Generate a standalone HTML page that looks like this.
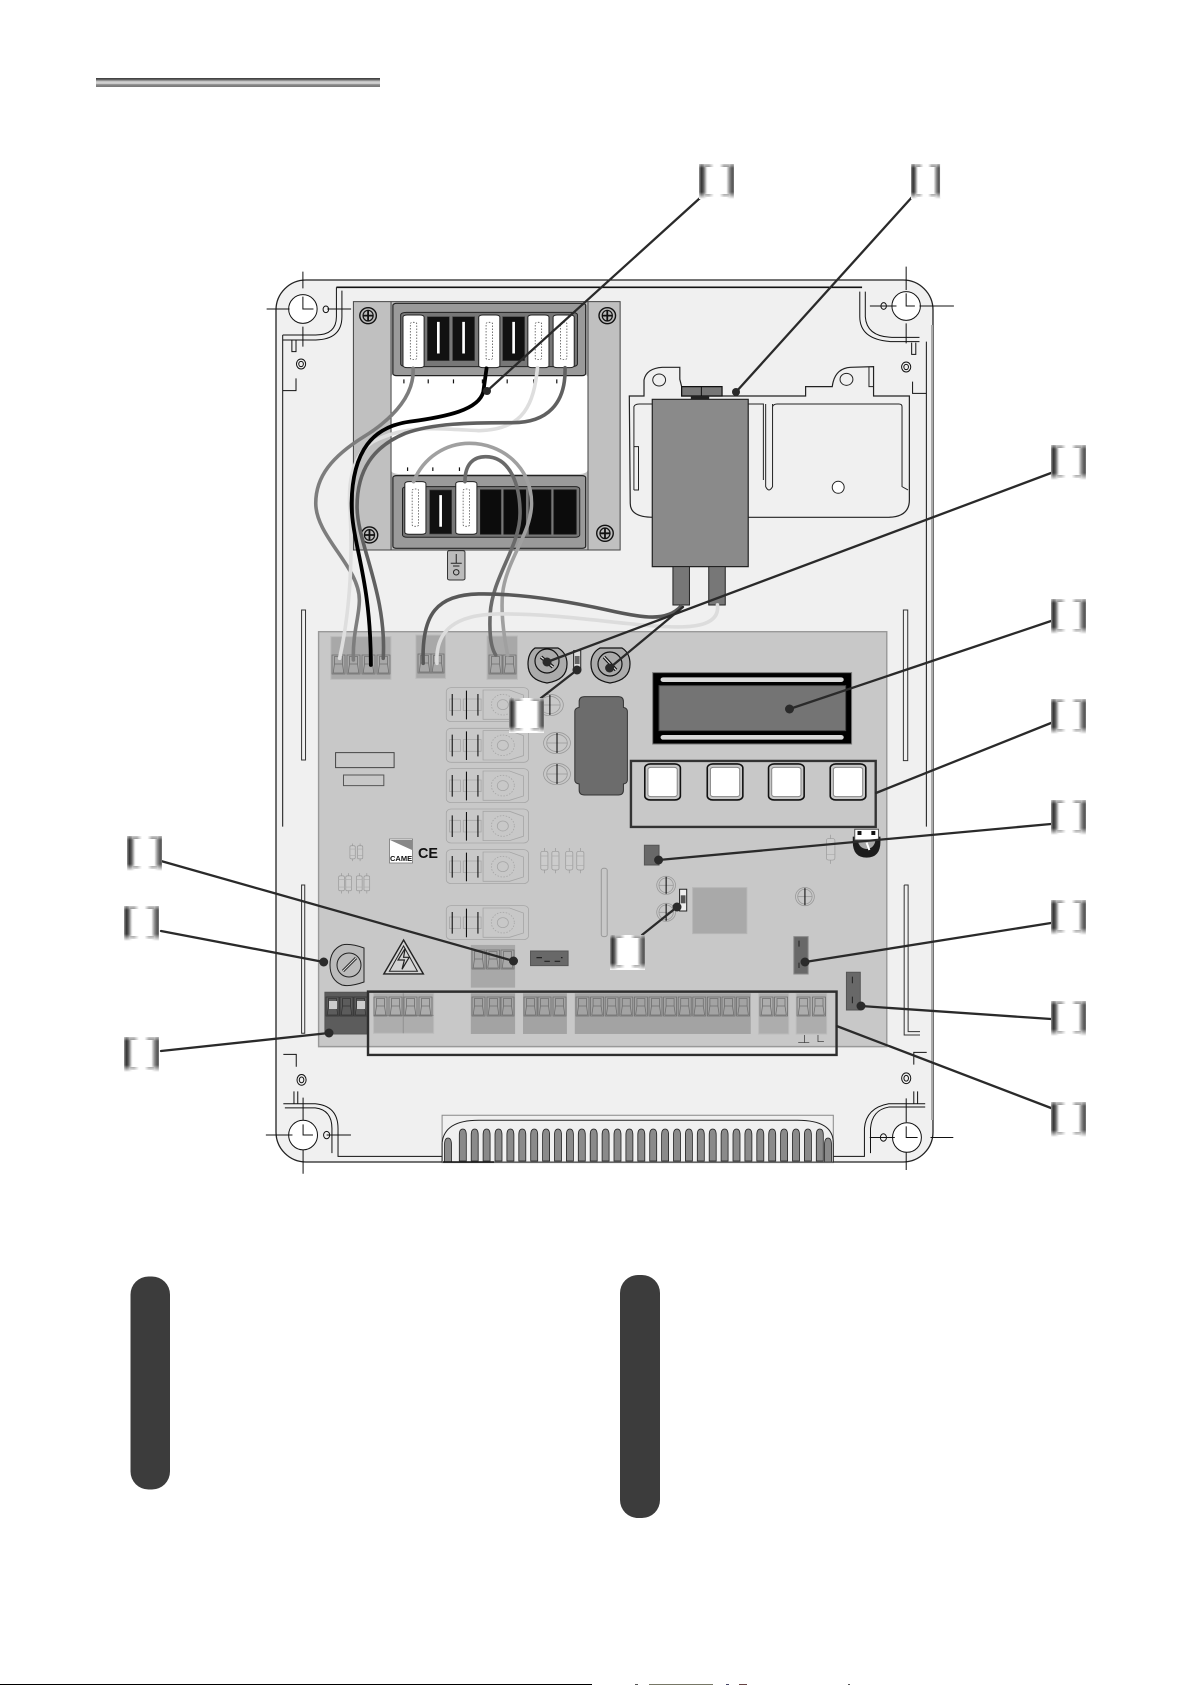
<!DOCTYPE html>
<html><head><meta charset="utf-8"><title>Control board</title>
<style>
html,body{margin:0;padding:0;background:#fff}
svg{display:block}
svg *{vector-effect:non-scaling-stroke}
</style></head><body>
<svg xmlns="http://www.w3.org/2000/svg" width="1191" height="1685" viewBox="0 0 1191 1685">
<defs>
<linearGradient id="bar" x1="0" y1="0" x2="0" y2="1">
<stop offset="0" stop-color="#3a3a3a"/><stop offset=".15" stop-color="#555"/><stop offset=".38" stop-color="#c5c5c5"/><stop offset=".58" stop-color="#d8d8d8"/><stop offset=".75" stop-color="#888"/><stop offset="1" stop-color="#777"/>
</linearGradient>
<linearGradient id="lg" x1="0" y1="0" x2="1" y2="0">
<stop offset="0" stop-color="#999"/><stop offset=".03" stop-color="#666"/><stop offset=".07" stop-color="#333"/><stop offset=".12" stop-color="#555"/><stop offset=".17" stop-color="#999"/><stop offset=".21" stop-color="#ddd"/><stop offset=".25" stop-color="#fff"/><stop offset=".78" stop-color="#fff"/><stop offset=".82" stop-color="#ccc"/><stop offset=".88" stop-color="#888"/><stop offset=".95" stop-color="#555"/><stop offset="1" stop-color="#777"/>
</linearGradient>
<linearGradient id="cap" x1="0" y1="0" x2="1" y2="0">
<stop offset=".2" stop-color="#888"/><stop offset=".4" stop-color="#fff"/><stop offset=".62" stop-color="#fff"/><stop offset=".8" stop-color="#888"/>
</linearGradient>
<linearGradient id="ft" x1="0" y1="0" x2="0" y2="1"><stop offset="0" stop-color="#fff" stop-opacity=".55"/><stop offset="1" stop-color="#fff" stop-opacity="0"/></linearGradient>
<linearGradient id="fb" x1="0" y1="0" x2="0" y2="1"><stop offset="0" stop-color="#fff" stop-opacity="0"/><stop offset="1" stop-color="#fff"/></linearGradient>
<g id="L"><rect width="35" height="35" fill="url(#lg)"/><rect x="5" width="25" height="3" fill="url(#cap)"/><rect x="5" y="30" width="25" height="3" fill="url(#cap)"/><rect width="35" height="4" fill="url(#ft)"/><rect y="28" width="35" height="7" fill="url(#fb)"/></g>
<g id="t" fill="none" stroke="#6f6f6f" stroke-width=".8"><rect width="13" height="19"/><path d="M2.5 1.5H10.5V9H2.5ZM2.5 9L1.2 18M10.5 9L11.8 18M1.2 18H11.8"/></g>
<g id="td" fill="none" stroke="#333" stroke-width=".8"><rect width="13" height="19"/><path d="M2.5 1.5H10.5V9H2.5ZM2.5 9L1.2 18M10.5 9L11.8 18M1.2 18H11.8"/></g>
<path id="v" d="M0 32V6Q0 0 3.5 0Q7 0 7 6V32Z" fill="#8a8a8a" stroke="#222" stroke-width=".8"/>
<g id="wt"><rect width="46" height="158" rx="9" ry="6" fill="#fff" stroke="#222" stroke-width="1"/><rect x="16" y="22" width="14" height="112" rx="6" ry="4" fill="none" stroke="#555" stroke-width=".8" stroke-dasharray="1.5 1.5"/></g>
<g id="bk"><rect width="48" height="132" fill="#111" stroke="#444" stroke-width=".6"/><rect x="20" y="14" width="8" height="98" fill="#fff"/></g>
<g id="sc"><ellipse rx="18" ry="24" fill="#bbb" stroke="#111" stroke-width="1.4"/><ellipse rx="11" ry="16" fill="none" stroke="#111" stroke-width="1.2"/><path d="M-11 0H11M0-16V16" stroke="#111" stroke-width="1.8"/></g>
<g id="relay" fill="none" stroke="#a6a6a6" stroke-width=".8">
<rect x="370" y="203" width="208" height="102" rx="12" ry="12"/>
<path d="M463 210H530L565 225V285L530 298H463Z"/>
<ellipse cx="513" cy="254" rx="14" ry="15"/><ellipse cx="513" cy="254" rx="29" ry="31" stroke-dasharray="1.5 1.5"/>
<rect x="378" y="237" width="28" height="35"/><rect x="413" y="237" width="45" height="35"/>
<path d="M385 222V287M421 212V298M450 222V287" stroke="#111" stroke-width="1.1"/>
</g>
<g id="res" fill="none" stroke="#999" stroke-width=".7"><rect x="-9" y="-28" width="18" height="56" rx="5" ry="5" fill="#ccc"/><path d="M0-28V-38M0 28V38"/><path d="M-9-14H9M-9 14H9" stroke="#aaa"/></g>
<g id="cap1" fill="none" stroke="#999" stroke-width=".8"><ellipse rx="34" ry="32"/><ellipse rx="26" ry="26"/><path d="M-26 0H26"/><path d="M0-30V30" stroke="#111" stroke-width="1.1"/></g>
</defs>

<rect width="1191" height="1685" fill="#fff"/>
<rect x="96" y="78" width="284" height="9" fill="url(#bar)"/>

<!-- enclosure -->
<rect x="276" y="280" width="657" height="882" rx="30" ry="30" fill="#f0f0f0" stroke="#222" stroke-width="1.3"/>
<path d="M932 325V1120" stroke="#aaa" stroke-width="2" fill="none"/>

<g transform="translate(240 260) scale(.4591 .3333)" fill="none" stroke="#111" stroke-width="1">
<path d="M1355 82H210" stroke-width="1.6"/>
<path d="M210 82V170Q210 225 165 225H93M222 92V170Q222 238 165 240H93M93 225V1700"/>
<path d="M1350 95V170Q1350 240 1420 245H1480M1362 95V170Q1365 230 1420 232H1480M1495 245V1700"/>
<path d="M113 240V275H122V240M122 355V392H93M1463 248V283H1472V248M1465 365V400H1495"/>
<ellipse cx="133" cy="312" rx="10" ry="15"/><ellipse cx="133" cy="312" rx="5" ry="8"/>
<ellipse cx="1451" cy="321" rx="10" ry="15"/><ellipse cx="1451" cy="321" rx="5" ry="8"/>
<ellipse cx="187" cy="148" rx="6" ry="10"/><ellipse cx="1402" cy="138" rx="6" ry="10"/>
<ellipse cx="137" cy="147" rx="31" ry="43" fill="#fff"/><ellipse cx="1451" cy="138" rx="31" ry="43" fill="#fff"/>
<path d="M58 147H108M190 147H242M137 35V85M137 200V260M137 110V147H160"/>
<path d="M1372 138H1430M1480 138H1555M1451 20V90M1451 190V250M1451 100V138H1470"/>
<!-- transformer -->
<rect x="247" y="125" width="581" height="745" fill="#c0c0c0" stroke="#444"/>
<rect x="329" y="340" width="428" height="302" rx="16" ry="12" fill="#fff" stroke="none"/>
<path d="M329 125V870M758 125V870" stroke="#444"/>
<rect x="333" y="130" width="420" height="217" rx="8" ry="6" fill="#9a9a9a" stroke="#222" stroke-width="1.2"/>
<rect x="350" y="157" width="385" height="163" rx="12" ry="8" fill="#777" stroke="#222"/>
<rect x="333" y="647" width="420" height="218" rx="8" ry="6" fill="#9a9a9a" stroke="#222" stroke-width="1.2"/>
<rect x="354" y="680" width="386" height="152" rx="10" ry="7" fill="#777" stroke="#222"/>
<use href="#bk" x="408" y="170"/><use href="#bk" x="463" y="170"/><use href="#bk" x="572" y="170"/>
<use href="#wt" x="355" y="165"/><use href="#wt" x="520" y="165"/><use href="#wt" x="627" y="165"/><use href="#wt" x="682" y="165"/>
<use href="#bk" x="413" y="690"/>
<rect x="524" y="690" width="44" height="132" fill="#0c0c0c"/><rect x="575" y="690" width="47" height="132" fill="#0c0c0c"/><rect x="630" y="690" width="47" height="132" fill="#0c0c0c"/><rect x="684" y="690" width="48" height="132" fill="#0c0c0c"/>
<use href="#wt" x="359" y="665"/><use href="#wt" x="470" y="665"/>
<path d="M357 358V370M410 358V370M465 358V370M528 358V370M582 358V370M640 358V370M690 358V370M365 622V633M420 622V633M478 622V633" stroke-width="1.2"/>
<use href="#sc" x="279" y="167"/><use href="#sc" x="800" y="167"/><use href="#sc" x="282" y="825"/><use href="#sc" x="795" y="820"/>
<rect x="452" y="872" width="38" height="88" rx="5" ry="4" fill="#bbb" stroke="#333"/>
<path d="M471 882V910M459 910H483M464 918H478" stroke="#222"/><ellipse cx="471" cy="937" rx="6" ry="8" stroke="#222"/>
<!-- bracket -->
<path d="M848 408H880V360Q885 325 920 322H958V358L962 380V408H1085V408H1232V380H1290Q1295 325 1330 322L1380 320V408H1458V720Q1458 772 1410 772H900Q850 772 850 730Z" fill="#f0f0f0" stroke="#222" stroke-width="1.2"/>
<path d="M858 690V440Q860 432 870 432H1140V660M1160 660V440Q1162 432 1170 432H1435Q1442 432 1442 440V680L1455 690M1145 575V680Q1152 700 1160 680V575M1145 432V575M1160 432V575M858 560H868V690H858" stroke="#222"/>
<ellipse cx="913" cy="360" rx="14" ry="18" stroke="#222"/><ellipse cx="1321" cy="358" rx="14" ry="18" stroke="#222"/>
<path d="M1370 320V380H1380" stroke="#222"/>
<ellipse cx="1303" cy="682" rx="13" ry="18" fill="#fff" stroke="#222"/>
<rect x="962" y="380" width="88" height="28" fill="#777" stroke="#111" stroke-width="1.2"/><path d="M1005 380V408" stroke="#111"/>
<rect x="982" y="408" width="40" height="10" fill="#222" stroke="none"/>
<rect x="898" y="418" width="209" height="502" fill="#8a8a8a" stroke="#222" stroke-width="1.2"/>
<rect x="943" y="920" width="36" height="115" fill="#777" stroke="#222"/>
<rect x="1021" y="920" width="36" height="115" fill="#777" stroke="#222"/>
</g>

<!-- PCB -->
<g transform="translate(300 620) scale(.3954 .3333)" fill="none" stroke="#333">
<rect x="4" y="-30" width="10" height="450" fill="#f0f0f0" stroke="#333"/>
<rect x="1526" y="-30" width="11" height="452" fill="#f0f0f0" stroke="#333"/>
<rect x="4" y="795" width="8" height="445" fill="#f0f0f0" stroke="#333"/>
<path d="M1528 795H1538V1235H1568M1528 795V1245H1568" fill="#f0f0f0" stroke="#333"/>
<rect x="47" y="35" width="1437" height="1245" fill="#c8c8c8" stroke="#999" stroke-width="1.4"/>
<!-- lcd -->
<rect x="892" y="158" width="503" height="214" fill="#000" stroke="#777"/>
<rect x="908" y="197" width="472" height="135" fill="#747474" stroke="#444"/>
<rect x="912" y="172" width="463" height="14" rx="7" ry="6" fill="#d8d8d8" stroke="none"/>
<rect x="912" y="345" width="463" height="14" rx="7" ry="6" fill="#d8d8d8" stroke="none"/>
<!-- big dark -->
<path d="M720 230H805Q818 230 818 245V262Q828 264 828 275V480Q828 490 818 492V510Q818 525 805 525H720Q706 525 706 510V492Q695 490 695 480V275Q695 264 706 262V245Q706 230 720 230Z" fill="#6c6c6c" stroke="#333"/>
<!-- relays -->
<use href="#relay"/><use href="#relay" y="122"/><use href="#relay" y="243"/><use href="#relay" y="364"/><use href="#relay" y="486"/><use href="#relay" y="654"/>
<use href="#cap1" x="632" y="255"/><use href="#cap1" x="650" y="369"/><use href="#cap1" x="650" y="462"/>
<g transform="translate(926 796) scale(.7 .85)"><use href="#cap1"/></g>
<g transform="translate(926 877) scale(.7 .85)"><use href="#cap1"/></g>
<g transform="translate(1277 830) scale(.7 .85)"><use href="#cap1"/></g>
<!-- misc -->
<rect x="90" y="398" width="148" height="45" stroke="#444" stroke-width="1"/>
<rect x="110" y="465" width="102" height="32" stroke="#555" stroke-width="1"/>
<g transform="translate(133 697) scale(.75 .7)"><use href="#res"/></g><g transform="translate(152 697) scale(.75 .7)"><use href="#res"/></g>
<g transform="translate(105 790) scale(.8 .8)"><use href="#res"/></g><g transform="translate(123 790) scale(.8 .8)"><use href="#res"/></g><g transform="translate(150 790) scale(.8 .8)"><use href="#res"/></g><g transform="translate(169 790) scale(.8 .8)"><use href="#res"/></g>
<use href="#res" x="618" y="722"/><use href="#res" x="646" y="722"/><use href="#res" x="681" y="722"/><use href="#res" x="709" y="722"/>
<g transform="translate(1342 688) scale(1.2 1.15)"><use href="#res"/></g>
<rect x="762" y="745" width="15" height="205" rx="7" ry="6" stroke="#999"/>
<rect x="993" y="803" width="137" height="138" fill="#a9a9a9" stroke="#b5b5b5"/>
<rect x="960" y="808" width="18" height="65" fill="#eee" stroke="#222"/><rect x="963" y="826" width="12" height="24" fill="#555" stroke="none"/>
<rect x="692" y="92" width="18" height="58" fill="#ddd" stroke="#222"/><rect x="695" y="108" width="12" height="24" fill="#666" stroke="none"/>
<rect x="871" y="676" width="37" height="59" fill="#686868" stroke="#555"/>
<rect x="1249" y="950" width="36" height="112" fill="#686868" stroke="#888"/>
<rect x="1382" y="1057" width="35" height="113" fill="#686868" stroke="#555"/>
<rect x="583" y="993" width="95" height="44" fill="#686868" stroke="#555"/>
<path d="M598 1013H612M618 1024H632M644 1024H658M664 1013H660" stroke="#222" stroke-width="1.2"/>
<path d="M1262 962V980M1262 1028V1044M1397 1070V1090M1397 1130V1150" stroke="#222"/>
<path d="M1398 650H1468V665Q1468 713 1433 713Q1398 713 1398 665Z" fill="#1c1c1c" stroke="none"/>
<ellipse cx="1433" cy="660" rx="22" ry="27" fill="#aaa" stroke="none"/>
<rect x="1403" y="628" width="60" height="32" fill="#fff" stroke="#555"/><rect x="1410" y="633" width="10" height="12" fill="#111" stroke="none"/><rect x="1445" y="633" width="10" height="12" fill="#111" stroke="none"/>
<path d="M1433 668L1440 690" stroke="#fff" stroke-width="2"/>
<!-- buttons -->
<rect x="837" y="423" width="619" height="198" stroke="#333" stroke-width="2.4"/>
<rect x="872" y="432" width="90" height="108" rx="14" ry="12" fill="#c8c8c8" stroke="#111" stroke-width="1.6"/><rect x="880" y="442" width="74" height="88" rx="8" ry="6" fill="#fff" stroke="#888"/>
<rect x="1030" y="432" width="90" height="108" rx="14" ry="12" fill="#c8c8c8" stroke="#111" stroke-width="1.6"/><rect x="1038" y="442" width="74" height="88" rx="8" ry="6" fill="#fff" stroke="#888"/>
<rect x="1185" y="432" width="90" height="108" rx="14" ry="12" fill="#c8c8c8" stroke="#111" stroke-width="1.6"/><rect x="1193" y="442" width="74" height="88" rx="8" ry="6" fill="#fff" stroke="#888"/>
<rect x="1341" y="432" width="90" height="108" rx="14" ry="12" fill="#c8c8c8" stroke="#111" stroke-width="1.6"/><rect x="1349" y="442" width="74" height="88" rx="8" ry="6" fill="#fff" stroke="#888"/>
<!-- warning -->
<path d="M262 960L312 1062H212Z" fill="#d4d4d4" stroke="#222" stroke-width="1.4"/>
<path d="M262 978L297 1054H226Z" fill="none" stroke="#222"/>
<path d="M266 985L248 1020H264L258 1048L276 1012H262Z" fill="none" stroke="#222" stroke-width="1.2"/>
<!-- terminal blocks -->
<rect x="78" y="50" width="152" height="128" fill="#a8a8a8" stroke="#bbb"/>
<rect x="293" y="45" width="75" height="130" fill="#a8a8a8" stroke="#bbb"/>
<rect x="473" y="48" width="77" height="130" fill="#a8a8a8" stroke="#bbb"/>
<rect x="432" y="975" width="112" height="128" fill="#a8a8a8" stroke="none"/>
<rect x="186" y="1120" width="152" height="120" fill="#adadad" stroke="#bbb"/>
<path d="M261 1120V1240M186 1186H338" stroke="#888" stroke-width=".8"/>
<rect x="432" y="1120" width="112" height="122" fill="#a3a3a3" stroke="none"/>
<rect x="564" y="1120" width="111" height="122" fill="#a3a3a3" stroke="none"/>
<rect x="695" y="1120" width="445" height="122" fill="#a3a3a3" stroke="none"/>
<rect x="1160" y="1120" width="76" height="122" fill="#adadad" stroke="#bbb"/>
<rect x="1255" y="1120" width="77" height="122" fill="#adadad" stroke="#bbb"/>
<rect x="63" y="1117" width="109" height="125" fill="#5c5c5c" stroke="#555"/>
<path d="M1276 1245V1268M1260 1268H1288M1310 1245V1265H1325" stroke="#444" stroke-width=".8"/>
<rect x="172" y="1115" width="1185" height="190" stroke="#2e2e2e" stroke-width="2.4"/>
</g>

<!-- terminals real coords -->
<use href="#t" x="332" y="655"/><use href="#t" x="347" y="655"/><use href="#t" x="362" y="655"/><use href="#t" x="377" y="655"/>
<use href="#t" x="418" y="654"/><use href="#t" x="431" y="654"/><use href="#t" x="489" y="655"/><use href="#t" x="503" y="655"/>
<use href="#t" x="472" y="950"/><use href="#t" x="486.5" y="950"/><use href="#t" x="501" y="950"/>
<use href="#t" x="374" y="997"/><use href="#t" x="389" y="997"/><use href="#t" x="404" y="997"/><use href="#t" x="419" y="997"/>
<use href="#t" x="472" y="997"/><use href="#t" x="487" y="997"/><use href="#t" x="501" y="997"/>
<use href="#t" x="524" y="997"/><use href="#t" x="538" y="997"/><use href="#t" x="553" y="997"/>
<use href="#t" x="576" y="997"/><use href="#t" x="590.6" y="997"/><use href="#t" x="605.2" y="997"/><use href="#t" x="619.8" y="997"/><use href="#t" x="634.4" y="997"/><use href="#t" x="649" y="997"/><use href="#t" x="663.6" y="997"/><use href="#t" x="678.2" y="997"/><use href="#t" x="692.8" y="997"/><use href="#t" x="707.4" y="997"/><use href="#t" x="722" y="997"/><use href="#t" x="736.6" y="997"/>
<use href="#t" x="760" y="997"/><use href="#t" x="774.5" y="997"/><use href="#t" x="797" y="997"/><use href="#t" x="812.5" y="997"/>
<use href="#td" x="326" y="997"/><use href="#td" x="340" y="997"/><use href="#td" x="354" y="997"/>
<rect x="329" y="1001" width="8" height="8" fill="#ccc"/><rect x="357" y="1001" width="8" height="8" fill="#ccc"/>

<!-- logo -->
<rect x="389.5" y="839" width="23" height="24" fill="#fff" stroke="#777" stroke-width=".8"/>
<path d="M390 840H412V850Z" fill="#888"/>
<text x="390" y="861" font-family="Liberation Sans, sans-serif" font-size="7.5" font-weight="bold" fill="#111">CAME</text>
<text x="418" y="858" font-family="Liberation Sans, sans-serif" font-size="15" font-weight="bold" fill="#111" textLength="20" lengthAdjust="spacingAndGlyphs">CE</text>

<!-- trimmers -->
<path d="M535 648H558Q567 653 567 664Q567 680 547 683Q528 680 528 664Q528 653 535 648Z" fill="#ababab" stroke="#111" stroke-width="1.2"/>
<circle cx="547" cy="661" r="12" fill="none" stroke="#111" stroke-width="1.2"/>
<path d="M541 657L553 667" stroke="#111" stroke-width="3.5"/><path d="M541 657L553 667" stroke="#ddd" stroke-width="1.2"/>
<path d="M600 648H622Q630 653 630 664Q630 680 610 683Q591 680 591 664Q591 653 600 648Z" fill="#ababab" stroke="#111" stroke-width="1.2"/>
<circle cx="610" cy="664" r="12" fill="none" stroke="#111" stroke-width="1.2"/>
<path d="M604 657L616 670" stroke="#111" stroke-width="3.5"/><path d="M604 657L616 670" stroke="#ddd" stroke-width="1.2"/>
<!-- fuse -->
<path d="M364 948Q350 943 342 945Q330 950 330 965Q330 980 342 985Q350 987 364 982Z" fill="#bbb" stroke="#222" stroke-width="1"/>
<circle cx="349" cy="965" r="12" fill="none" stroke="#222" stroke-width="1"/>
<path d="M343 971L356 958" stroke="#222" stroke-width="3"/><path d="M343 971L356 958" stroke="#ddd" stroke-width="1"/>

<!-- vent & lower corners -->
<g transform="translate(0 1040) scale(.7596 .4114)" fill="none" stroke="#111">
<ellipse cx="399" cy="231" rx="19" ry="36" fill="#fff"/><ellipse cx="1194" cy="237" rx="19" ry="36" fill="#fff"/>
<path d="M399 140V195M399 267V325M350 231H385M430 231H462M399 205V231H412"/>
<path d="M1193 142V200M1193 273V316M1145 237H1178M1225 237H1255M1193 210V237H1208"/>
<ellipse cx="430" cy="231" rx="4" ry="9"/><ellipse cx="1163" cy="237" rx="4" ry="9"/>
<path d="M373 155H415Q445 160 445 215V283H582M375 165H415Q437 170 437 215V275"/>
<path d="M1218 155H1170Q1140 165 1138 215V283H1097M1218 163H1170Q1148 170 1146 215V275"/>
<path d="M387 125V155M392 125V155M1203 125V155M1208 125V155"/>
<path d="M373 35H390V65M1203 60V30H1220"/>
<ellipse cx="397" cy="97" rx="6" ry="13"/><ellipse cx="397" cy="97" rx="3" ry="7"/><ellipse cx="1193" cy="93" rx="6" ry="13"/><ellipse cx="1193" cy="93" rx="3" ry="7"/>
<rect x="582" y="183" width="515" height="115" fill="#f0f0f0" stroke="#888"/>
<path d="M582 250Q585 195 630 195H1050Q1097 195 1097 250" stroke="#222"/>
<path d="M582 298V250M1097 298V250" stroke="#222"/>
</g>
<use href="#v" x="459.3" y="1129"/><use href="#v" x="471.2" y="1129"/><use href="#v" x="483.1" y="1129"/><use href="#v" x="495" y="1129"/><use href="#v" x="506.9" y="1129"/><use href="#v" x="518.8" y="1129"/><use href="#v" x="530.7" y="1129"/><use href="#v" x="542.6" y="1129"/><use href="#v" x="554.5" y="1129"/><use href="#v" x="566.4" y="1129"/><use href="#v" x="578.3" y="1129"/><use href="#v" x="590.2" y="1129"/><use href="#v" x="602.1" y="1129"/><use href="#v" x="614" y="1129"/><use href="#v" x="625.9" y="1129"/><use href="#v" x="637.8" y="1129"/><use href="#v" x="649.7" y="1129"/><use href="#v" x="661.6" y="1129"/><use href="#v" x="673.5" y="1129"/><use href="#v" x="685.4" y="1129"/><use href="#v" x="697.3" y="1129"/><use href="#v" x="709.2" y="1129"/><use href="#v" x="721.1" y="1129"/><use href="#v" x="733" y="1129"/><use href="#v" x="744.9" y="1129"/><use href="#v" x="756.8" y="1129"/><use href="#v" x="768.7" y="1129"/><use href="#v" x="780.6" y="1129"/><use href="#v" x="792.5" y="1129"/><use href="#v" x="804.4" y="1129"/><use href="#v" x="816.3" y="1129"/>
<path d="M444.5 1162V1145Q444.5 1138 448 1138Q451.5 1138 451.5 1145V1162Z" fill="#8a8a8a" stroke="#222" stroke-width=".8"/>
<path d="M824.5 1162V1145Q824.5 1138 828 1138Q831.5 1138 831.5 1145V1162Z" fill="#8a8a8a" stroke="#222" stroke-width=".8"/>
<path d="M443 1162H833" stroke="#444" stroke-width="1"/>
<path d="M443 1162H494" stroke="#111" stroke-width="1.6"/>

<!-- wires -->
<g transform="translate(240 260) scale(.4591 .3333)" fill="none" stroke-linecap="round">
<path d="M377 325C380 400 340 470 270 530C200 590 165 650 165 730C165 830 260 920 260 1020C260 1070 245 1120 247 1200" stroke="#7d7d7d" stroke-width="3.6"/>
<path d="M648 323C640 430 620 510 520 512C420 505 360 495 290 545C240 590 235 680 240 760C245 900 240 1050 217 1195" stroke="#dedede" stroke-width="3.6"/>
<path d="M708 323C710 430 670 490 590 488C500 488 420 490 360 520C290 560 255 630 255 740C255 850 320 1000 312 1195" stroke="#606060" stroke-width="3.6"/>
<path d="M537 325L530 395C520 450 450 470 370 485C290 500 245 570 243 730C243 850 285 950 285 1215" stroke="#000" stroke-width="3.8"/>
<path d="M378 665C400 590 450 550 500 550C570 550 635 620 635 730C635 820 580 900 572 1000C568 1060 575 1130 583 1185" stroke="#a0a0a0" stroke-width="3.6"/>
<path d="M490 665C490 610 510 590 535 590C590 590 610 680 610 760C610 860 550 950 545 1060C543 1110 545 1160 557 1185" stroke="#6a6a6a" stroke-width="3.6"/>
<path d="M1040 1035C1045 1090 1000 1105 930 1100C830 1095 700 1060 560 1062C470 1065 425 1110 429 1210" stroke="#dcdcdc" stroke-width="3.6"/>
<path d="M960 1040C930 1085 880 1075 800 1050C700 1020 600 1000 520 1002C430 1005 395 1060 399 1210" stroke="#585858" stroke-width="3.6"/>
</g>

<!-- leaders -->
<g stroke="#2a2a2a" stroke-width="2.3" fill="none" stroke-linecap="round">
<path d="M700 198L487 391"/>
<path d="M913 196L736 392"/>
<path d="M1051 473L547 662"/>
<path d="M1051 621L789.5 709"/>
<path d="M1051 723L876 793"/>
<path d="M1051 824L658.6 860"/>
<path d="M1051 923L805 962"/>
<path d="M1051 1019L861 1006"/>
<path d="M1051 1108L836.6 1026"/>
<path d="M161 861L513.5 961"/>
<path d="M161 931L323.7 962"/>
<path d="M161 1051L329 1033"/>
<path d="M541 698L577 670"/>
<path d="M609.6 668L683 607"/>
<path d="M642 935L677 907"/>
</g>
<g fill="#2a2a2a">
<circle cx="487" cy="391" r="4"/><circle cx="736" cy="392" r="4"/><circle cx="547" cy="662" r="4.5"/><circle cx="789.5" cy="709" r="4.5"/>
<circle cx="658.6" cy="860" r="4.5"/><circle cx="805" cy="962" r="4.5"/><circle cx="861" cy="1006" r="4.5"/><circle cx="513.5" cy="961" r="4.5"/>
<circle cx="323.7" cy="962" r="4.5"/><circle cx="329" cy="1033" r="4.5"/><circle cx="577" cy="670" r="4.5"/><circle cx="609.6" cy="668" r="4.5"/><circle cx="677" cy="907" r="4.5"/>
</g>

<!-- labels -->
<use href="#L" x="699" y="164"/>
<g transform="translate(911 164) scale(.83 1)"><use href="#L"/></g>
<use href="#L" x="1051" y="445"/><use href="#L" x="1051" y="599"/><use href="#L" x="1051" y="699"/><use href="#L" x="1051" y="800"/><use href="#L" x="1051" y="900"/><use href="#L" x="1051" y="1001"/><use href="#L" x="1051" y="1102"/>
<use href="#L" x="127" y="836"/><use href="#L" x="124" y="906"/><use href="#L" x="124" y="1037"/>
<use href="#L" x="509" y="698"/><use href="#L" x="610" y="935"/>

<!-- pills -->
<rect x="130.5" y="1276.5" width="39.5" height="213" rx="18" ry="18" fill="#3c3c3c"/>
<rect x="620" y="1275" width="40" height="243" rx="18" ry="18" fill="#3c3c3c"/>

<!-- bottom edge -->
<rect x="0" y="1684" width="592" height="1" fill="#000"/>
<rect x="635" y="1684" width="3" height="1" fill="#555"/><rect x="649" y="1684" width="64" height="1" fill="#776"/><rect x="726" y="1684" width="3" height="1" fill="#446"/><rect x="739" y="1684" width="8" height="1" fill="#644"/><rect x="848" y="1684" width="2" height="1" fill="#555"/>
</svg>
</body></html>
